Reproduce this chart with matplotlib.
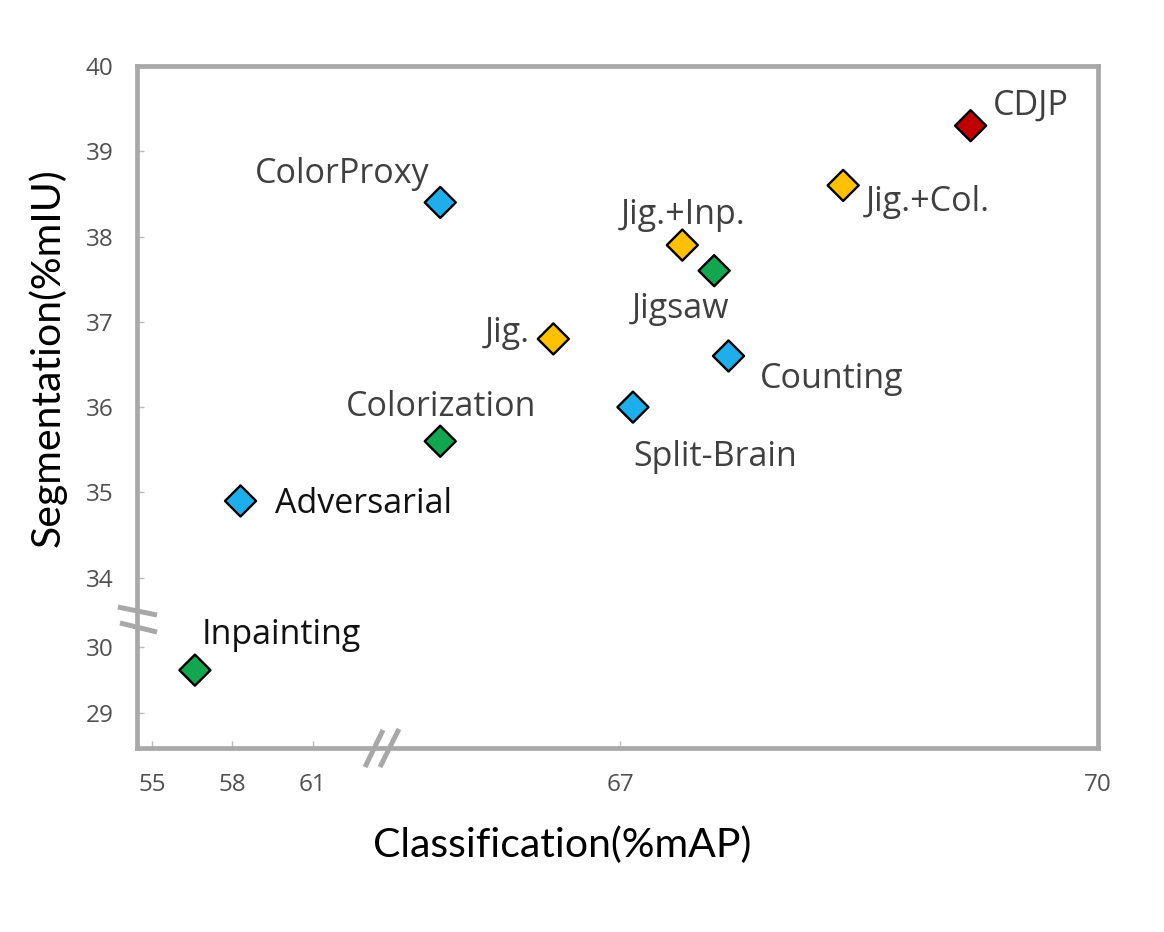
import numpy as np
import matplotlib
matplotlib.use("Agg")
import matplotlib.pyplot as plt

# ---------------- data ----------------
methods = ["CDJP", "Jig.+Col.", "Jig.+Inp.", "Jig.", "ColorProxy", "Counting",
           "Split-Brain", "Adversarial", "Jigsaw", "Colorization", "Inpainting"]
classification = [69.2, 68.4, 67.39, 66.58, 65.87, 67.68, 67.08, 58.3, 67.59, 65.87, 56.6]
segmentation = [39.3, 38.6, 37.9, 36.8, 38.4, 36.6, 36.0, 34.9, 37.6, 35.6, 29.65]
groups = ["ours", "combo", "combo", "combo", "blue", "blue",
          "blue", "blue", "green", "green", "green"]
x_ticks = [55, 58, 61, 67, 70]
y_ticks = [29, 30, 34, 35, 36, 37, 38, 39, 40]

# ---------------- style ----------------
group_colors = {"ours": "#C00000", "combo": "#FFC000", "blue": "#1EAEEB", "green": "#12A651"}
label_style = {
    # name: (dx px, dy px, ha, color)
    "CDJP": (22, 11, "left", "#404040"),
    "Jig.+Col.": (23, -26, "left", "#404040"),
    "Jig.+Inp.": (-62, 21, "left", "#404040"),
    "Jig.": (-23, -3, "right", "#404040"),
    "ColorProxy": (-11, 19, "right", "#404040"),
    "Counting": (31, -32, "left", "#404040"),
    "Split-Brain": (0, -59, "left", "#404040"),
    "Adversarial": (34, -12, "left", "#111111"),
    "Jigsaw": (-82, -47, "left", "#404040"),
    "Colorization": (-94, 25, "left", "#404040"),
    "Inpainting": (7, 26, "left", "#111111"),
}
GRAY = "#A8A8A8"

# broken-axis piecewise scales
X_NODES = [54.44, 63.65, 65.52, 70.0]
X_PIX = [0.0, 247.0, 247.5, 961.0]
Y_NODES = [28.47, 30.41, 33.51, 40.0]
Y_PIX = [0.0, 128.0, 128.5, 682.0]


def make_piecewise(nodes, pix):
    nodes = np.asarray(nodes, float)
    pix = np.asarray(pix, float)
    s0 = (pix[1] - pix[0]) / (nodes[1] - nodes[0])
    s1 = (pix[-1] - pix[-2]) / (nodes[-1] - nodes[-2])

    def fwd(v):
        v = np.asarray(v, float)
        out = np.interp(v, nodes, pix)
        out = np.where(v < nodes[0], pix[0] + (v - nodes[0]) * s0, out)
        out = np.where(v > nodes[-1], pix[-1] + (v - nodes[-1]) * s1, out)
        return out

    def inv(p):
        p = np.asarray(p, float)
        out = np.interp(p, pix, nodes)
        out = np.where(p < pix[0], nodes[0] + (p - pix[0]) / s0, out)
        out = np.where(p > pix[-1], nodes[-1] + (p - pix[-1]) / s1, out)
        return out

    return fwd, inv


W, H = 1164, 932
fig = plt.figure(figsize=(W / 100, H / 100), dpi=100)
L, R, T, B = 137, 1098, 66, 748
ax = fig.add_axes([L / W, (H - B) / H, (R - L) / W, (B - T) / H])

ax.set_xscale("function", functions=make_piecewise(X_NODES, X_PIX))
ax.set_yscale("function", functions=make_piecewise(Y_NODES, Y_PIX))
ax.set_xlim(X_NODES[0], X_NODES[-1])
ax.set_ylim(Y_NODES[0], Y_NODES[-1])

for sp in ax.spines.values():
    sp.set_color(GRAY)
    sp.set_linewidth(3.4)

ax.set_xticks(x_ticks)
ax.set_xticklabels([str(t) for t in x_ticks])
ax.set_yticks(y_ticks)
ax.set_yticklabels([str(t) for t in y_ticks])
ax.minorticks_off()
ax.tick_params(axis="both", direction="in", length=5, width=1, color="#BBBBBB",
               labelsize=17.5, labelcolor="#505050")
ax.tick_params(axis="x", pad=18)
ax.tick_params(axis="y", pad=17)
for lab in ax.get_xticklabels() + ax.get_yticklabels():
    lab.set_fontfamily("Open Sans")

ax.scatter(classification, segmentation, marker="D", s=250,
           c=[group_colors[g] for g in groups], edgecolors="black",
           linewidths=1.7, zorder=4, clip_on=False)

for name, xv, yv in zip(methods, classification, segmentation):
    dx, dy, ha, col = label_style[name]
    ax.annotate(name, (xv, yv), xytext=(dx, dy), textcoords="offset pixels",
                ha=ha, va="baseline", fontsize=24.5, color=col,
                family="Open Sans", zorder=5)

# break marks
brk = dict(transform=ax.transAxes, clip_on=False, color=GRAY, lw=3.6,
           solid_capstyle="butt", zorder=6)
ax.plot([0.2373, 0.2560], [-0.0279, 0.0264], **brk)
ax.plot([0.2529, 0.2726], [-0.0279, 0.0279], **brk)
ax.plot([-0.0198, 0.0208], [0.2067, 0.1950], **brk)
ax.plot([-0.0177, 0.0208], [0.1833, 0.1700], **brk)

fig.text(562 / W, 1 - 845 / H, "Classification(%mAP)", ha="center", va="center",
         fontsize=29.5, family="Lato", color="black")
fig.text(47 / W, 1 - 358 / H, "Segmentation(%mIU)", ha="center", va="center",
         rotation=90, fontsize=29.5, family="Lato", color="black")

fig.savefig("out.png", dpi=100, facecolor="white")
